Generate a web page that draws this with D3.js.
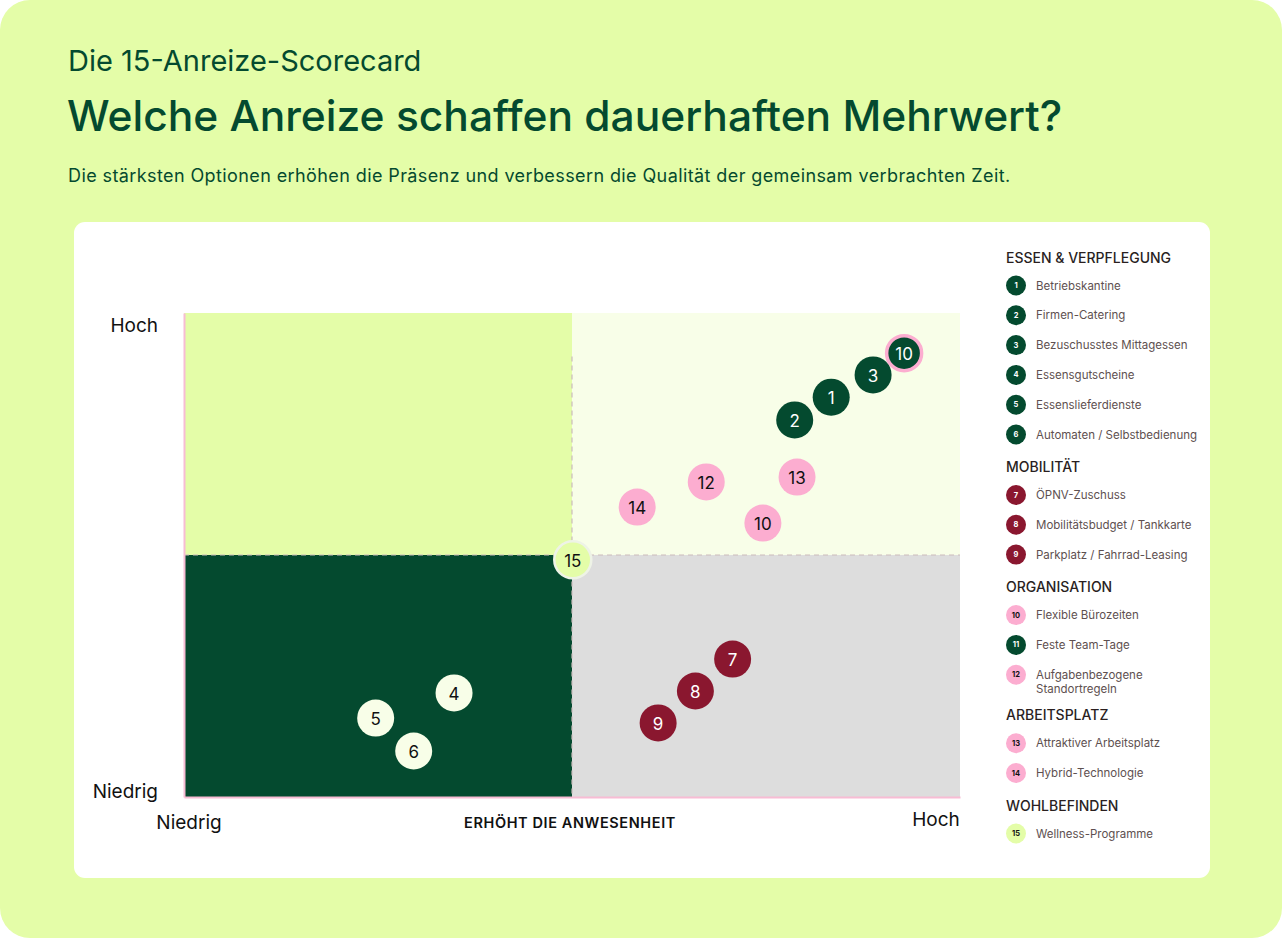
<!DOCTYPE html>
<html>
<head>
<meta charset="utf-8">
<script src="https://cdn.jsdelivr.net/npm/d3@7"></script>
<style>
  html, body { margin: 0; padding: 0; background: #fff; }
  svg { display: block; font-family: Inter, "Noto Sans", sans-serif; }
</style>
</head>
<body>
<svg id="chart" width="1282" height="938"></svg>
<script>
// points in the matrix (label, presence score, quality score, colour group)
const pointLabels = ['10', '3', '1', '2', '13', '12', '14', '10', '15', '7', '8', '9', '4', '5', '6'];
const presence    = [9.28, 8.88, 8.34, 7.87, 7.90, 6.73, 5.84, 7.46, 5.01, 7.07, 6.59, 6.11, 3.48, 2.47, 2.96];
const quality     = [9.17, 8.72, 8.26, 7.79, 6.61, 6.51, 5.99, 5.66, 4.90, 2.85, 2.19, 1.53, 2.15, 1.63, 0.95];
const pointKinds  = ['team', 'food', 'food', 'food', 'pink', 'pink', 'pink', 'pink', 'well', 'mob', 'mob', 'mob', 'cream', 'cream', 'cream'];

// legend
const groupNames  = ['ESSEN & VERPFLEGUNG', 'MOBILITÄT', 'ORGANISATION', 'ARBEITSPLATZ', 'WOHLBEFINDEN'];
const legendNums  = ['1', '2', '3', '4', '5', '6', '7', '8', '9', '10', '11', '12', '13', '14', '15'];
const legendNames = ['Betriebskantine', 'Firmen-Catering', 'Bezuschusstes Mittagessen', 'Essensgutscheine',
  'Essenslieferdienste', 'Automaten / Selbstbedienung', 'ÖPNV-Zuschuss', 'Mobilitätsbudget / Tankkarte',
  'Parkplatz / Fahrrad-Leasing', 'Flexible Bürozeiten', 'Feste Team-Tage', 'Aufgabenbezogene\nStandortregeln',
  'Attraktiver Arbeitsplatz', 'Hybrid-Technologie', 'Wellness-Programme'];
const legendGroup = [0, 0, 0, 0, 0, 0, 1, 1, 1, 2, 2, 2, 3, 3, 4];
const legendKinds = ['food', 'food', 'food', 'food', 'food', 'food', 'mob', 'mob', 'mob', 'pink', 'food', 'pink', 'pink', 'pink', 'well'];

const axisLow = 'Niedrig', axisHigh = 'Hoch', xTitle = 'ERHÖHT DIE ANWESENHEIT';

const C = {
  bg: '#e4fda8', dark: '#044a2f', pink: '#fcadd0', mob: '#8a172f', cream: '#f8fee8',
  gray: '#dddddd', axis: '#f7bcd4', text: '#111111'
};
const fill = { food: C.dark, team: C.dark, pink: C.pink, mob: C.mob, cream: C.cream, well: C.bg };
const ink = { food: '#fff', team: '#fff', pink: '#111', mob: '#fff', cream: '#111', well: '#111' };

const svg = d3.select('#chart');

// page background + card
svg.append('rect').attr('width', 1282).attr('height', 938).attr('rx', 30).attr('fill', C.bg);
svg.append('rect').attr('x', 74).attr('y', 222).attr('width', 1136).attr('height', 656)
  .attr('rx', 11).attr('fill', '#fff');

// headings
svg.append('text').attr('x', 68).attr('y', 71).attr('fill', C.dark)
  .style('font-size', '29px').text('Die 15-Anreize-Scorecard');
svg.append('text').attr('x', 67).attr('y', 131).attr('fill', C.dark)
  .style('font-size', '42.5px').style('font-weight', 500)
  .text('Welche Anreize schaffen dauerhaften Mehrwert?');
svg.append('text').attr('x', 68).attr('y', 182).attr('fill', C.dark)
  .style('font-size', '18px').style('letter-spacing', '0.4px')
  .text('Die stärksten Optionen erhöhen die Präsenz und verbessern die Qualität der gemeinsam verbrachten Zeit.');

// scales
const x = d3.scaleLinear().domain([0, 10]).range([184, 960]);
const y = d3.scaleLinear().domain([0, 10]).range([797, 313]);

const quads = [
  { x0: 0, x1: 5, y0: 5, y1: 10, c: C.bg },
  { x0: 5, x1: 10, y0: 5, y1: 10, c: C.cream },
  { x0: 0, x1: 5, y0: 0, y1: 5, c: C.dark },
  { x0: 5, x1: 10, y0: 0, y1: 5, c: C.gray }
];
svg.append('g').selectAll('rect').data(quads).join('rect')
  .attr('x', d => x(d.x0)).attr('y', d => y(d.y1))
  .attr('width', d => x(d.x1) - x(d.x0)).attr('height', d => y(d.y0) - y(d.y1))
  .attr('fill', d => d.c);

// dashed dividers
svg.append('line').attr('x1', x(5)).attr('x2', x(5)).attr('y1', y(9.1)).attr('y2', y(0))
  .attr('stroke', '#cbbcbc').attr('stroke-width', 1.2).attr('stroke-dasharray', '5,4');
svg.append('line').attr('x1', x(0)).attr('x2', x(10)).attr('y1', y(5)).attr('y2', y(5))
  .attr('stroke', '#cbbcbc').attr('stroke-width', 1.2).attr('stroke-dasharray', '5,4');

// axes (pink domain lines, no ticks)
svg.append('g').attr('transform', `translate(0,${y(0)})`)
  .call(d3.axisBottom(x).tickValues([]).tickSizeOuter(0))
  .call(g => g.select('.domain').attr('stroke', C.axis).attr('stroke-width', 2));
svg.append('g').attr('transform', `translate(${x(0)},0)`)
  .call(d3.axisLeft(y).tickValues([]).tickSizeOuter(0))
  .call(g => g.select('.domain').attr('stroke', C.axis).attr('stroke-width', 2));

// axis end labels
const lab = (tx, ty, anchor, t) => svg.append('text').attr('x', tx).attr('y', ty)
  .attr('text-anchor', anchor).attr('dominant-baseline', 'central')
  .attr('fill', C.text).style('font-size', '19px').text(t);
lab(x(0) - 26, y(10) + 12, 'end', axisHigh);
lab(x(0) - 26, y(0) - 6, 'end', axisLow);
lab(x(0) + 5, y(0) + 25, 'middle', axisLow);
lab(x(10) - 24, y(0) + 22, 'middle', axisHigh);
svg.append('text').attr('x', x(5) - 2).attr('y', y(0) + 25).attr('text-anchor', 'middle')
  .attr('dominant-baseline', 'central').attr('fill', C.text)
  .style('font-size', '14.5px').style('font-weight', 600).style('letter-spacing', '0.6px')
  .text(xTitle);

// points
const pts = pointLabels.map((l, i) => ({ l, px: presence[i], py: quality[i], k: pointKinds[i] }));
const pg = svg.append('g').selectAll('g').data(pts).join('g')
  .attr('transform', d => `translate(${x(d.px)},${y(d.py)})`);
pg.append('circle')
  .attr('r', d => d.k === 'team' ? 17.5 : 18.5)
  .attr('fill', d => fill[d.k])
  .attr('stroke', d => d.k === 'team' ? C.pink : d.k === 'well' ? '#eef3e6' : 'none')
  .attr('stroke-width', d => d.k === 'team' ? 3.5 : 2.5);
pg.append('text').attr('text-anchor', 'middle').attr('dominant-baseline', 'central')
  .attr('dy', 1).attr('fill', d => ink[d.k]).style('font-size', '17px').text(d => d.l);

// legend
const lg = svg.append('g');
let ly = 257;
legendNums.forEach((n, i) => {
  if (i === 0 || legendGroup[i] !== legendGroup[i - 1]) {
    if (i > 0) ly += 32;
    lg.append('text').attr('x', 1006).attr('y', ly).attr('dominant-baseline', 'central')
      .attr('fill', '#2a1f1f').style('font-size', '14px').style('font-weight', 500)
      .text(groupNames[legendGroup[i]]);
    ly += 28.5;
  } else {
    ly += 29.8;
  }
  const k = legendKinds[i];
  lg.append('circle').attr('cx', 1016).attr('cy', ly).attr('r', 10).attr('fill', fill[k]);
  lg.append('text').attr('x', 1016).attr('y', ly).attr('text-anchor', 'middle')
    .attr('dominant-baseline', 'central').attr('fill', ink[k])
    .style('font-size', '7.5px').style('font-weight', 700).text(n);
  const lines = legendNames[i].split('\n');
  const t = lg.append('text').attr('x', 1036).attr('y', ly).attr('fill', '#5e5050')
    .style('font-size', '11.5px');
  lines.forEach((s, j) => t.append('tspan').attr('x', 1036).attr('y', ly + j * 14)
    .attr('dominant-baseline', 'central').text(s));
  ly += (lines.length - 1) * 8;
});
</script>
</body>
</html>
